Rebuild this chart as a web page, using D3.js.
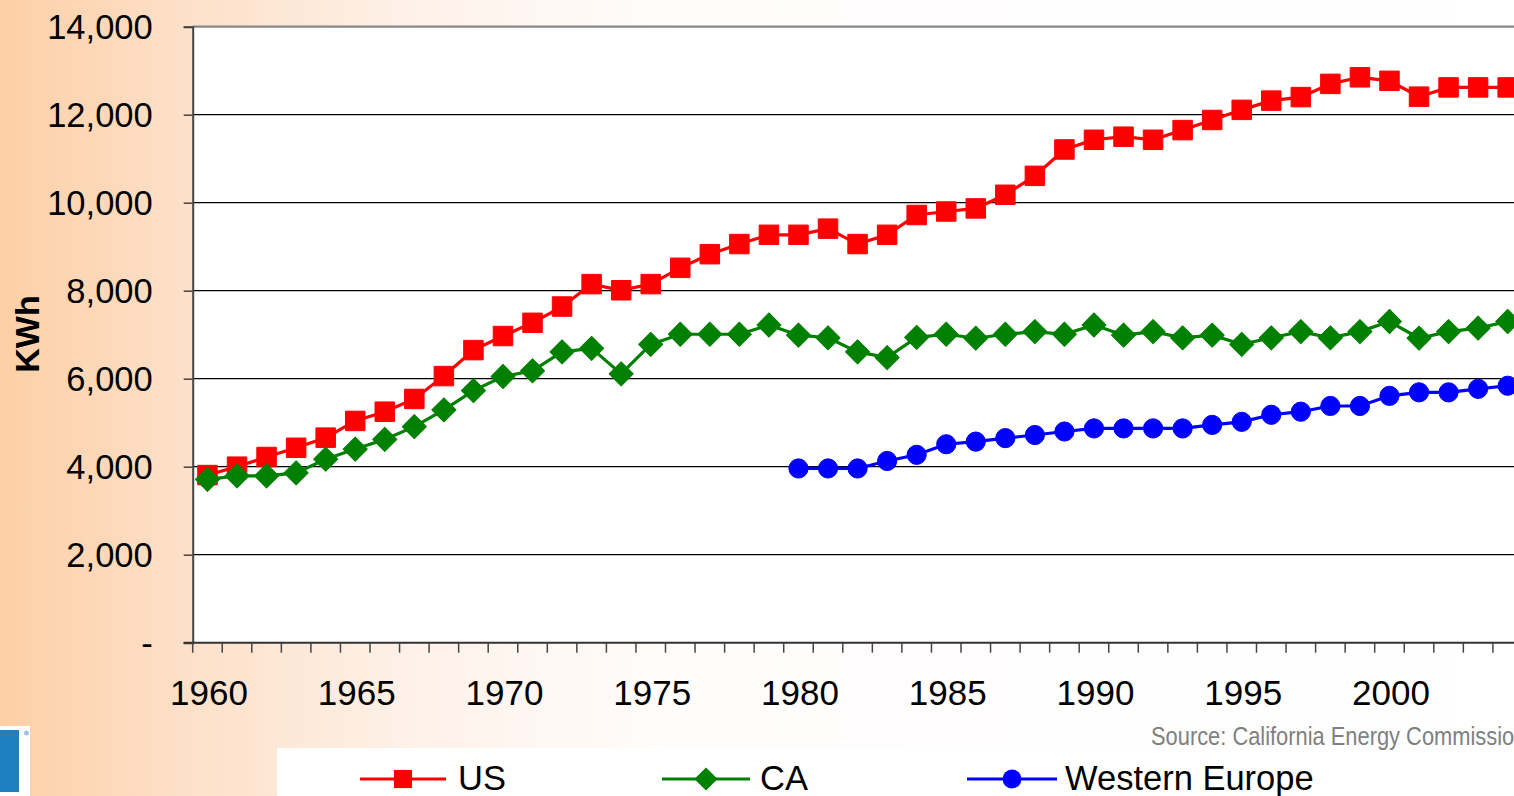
<!DOCTYPE html>
<html>
<head>
<meta charset="utf-8">
<script src="https://cdn.jsdelivr.net/npm/d3@7"></script>
<style>
  html, body { margin: 0; padding: 0; overflow: hidden; background: #fff; }
  svg { display: block; }
</style>
</head>
<body>
<svg id="chart" width="1514" height="796"></svg>
<script>
// ---------- data ----------
const years = d3.range(1960, 2005);
const usValues = [3810, 4000, 4220, 4430, 4660, 5040, 5250, 5540, 6060, 6650,
  6970, 7270, 7640, 8150, 8010, 8150, 8520, 8830, 9060, 9270,
  9270, 9410, 9060, 9270, 9720, 9800, 9870, 10180, 10610, 11210,
  11430, 11500, 11430, 11650, 11880, 12110, 12320, 12400, 12700, 12850,
  12770, 12410, 12620, 12620, 12620];
const caValues = [3710, 3790, 3790, 3860, 4170, 4400, 4620, 4910, 5290, 5730,
  6050, 6180, 6610, 6690, 6110, 6780, 7010, 7010, 7010, 7220,
  6990, 6930, 6610, 6480, 6940, 7010, 6920, 7010, 7070, 7010,
  7220, 6990, 7070, 6930, 6990, 6780, 6930, 7070, 6930, 7070,
  7300, 6920, 7070, 7150, 7300];
const weYears = d3.range(1980, 2005);
const weValues = [3960, 3960, 3960, 4130, 4270, 4510, 4570, 4650, 4720, 4800,
  4870, 4870, 4870, 4870, 4950, 5020, 5180, 5250, 5380, 5380,
  5610, 5690, 5690, 5770, 5840];
const yTicks = [0, 2000, 4000, 6000, 8000, 10000, 12000, 14000];
const xLabelYears = [1960, 1965, 1970, 1975, 1980, 1985, 1990, 1995, 2000];
const seriesNames = ["US", "CA", "Western Europe"];

// ---------- layout ----------
const svg = d3.select("#chart");
const W = 1514, H = 796;
const plotLeft = 192.7, plotTop = 26.7, plotBottom = 642.7;
const step = 29.55;
const plotRight = plotLeft + years.length * step;
const FONT = "Liberation Sans, Arial, sans-serif";

const defs = svg.append("defs");
const grad = defs.append("linearGradient").attr("id", "bg").attr("x1", 0).attr("x2", 1).attr("y1", 0).attr("y2", 0);
grad.append("stop").attr("offset", "0").attr("stop-color", "#fdcfa6");
grad.append("stop").attr("offset", "0.12").attr("stop-color", "#fde0c8");
grad.append("stop").attr("offset", "0.28").attr("stop-color", "#fef2ea");
grad.append("stop").attr("offset", "0.45").attr("stop-color", "#fffdfc");
grad.append("stop").attr("offset", "1").attr("stop-color", "#ffffff");
svg.append("rect").attr("width", W).attr("height", H).attr("fill", "url(#bg)");

// plot area and legend background
svg.append("rect").attr("x", plotLeft).attr("y", plotTop).attr("width", plotRight - plotLeft).attr("height", plotBottom - plotTop).attr("fill", "#fff");
svg.append("rect").attr("x", 277).attr("y", 748).attr("width", W - 277).attr("height", 48).attr("fill", "#fff");

// logo fragment
svg.append("rect").attr("x", 0).attr("y", 726).attr("width", 30).attr("height", 70).attr("fill", "#fff");
svg.append("rect").attr("x", 0).attr("y", 730).attr("width", 19).attr("height", 62).attr("fill", "#1f7fbf");
svg.append("circle").attr("cx", 26.5).attr("cy", 733).attr("r", 2.5).attr("fill", "#9cc4e0");

// ---------- scales ----------
const x = d3.scaleBand().domain(years).range([plotLeft, plotRight]).paddingInner(0).paddingOuter(0);
const xc = yr => x(yr) + x.bandwidth() / 2;
const y = d3.scaleLinear().domain([0, 14000]).range([plotBottom, plotTop]);

// gridlines
svg.append("g").selectAll("line").data(yTicks.filter(d => d > 0 && d < 14000)).join("line")
  .attr("x1", plotLeft).attr("x2", plotRight).attr("y1", d => y(d)).attr("y2", d => y(d))
  .attr("stroke", "#000").attr("stroke-width", 1.2);
// top border
svg.append("line").attr("x1", plotLeft).attr("x2", plotRight).attr("y1", y(14000)).attr("y2", y(14000))
  .attr("stroke", "#888").attr("stroke-width", 2.2);

// y axis
const yAxis = d3.axisLeft(y).tickValues(yTicks).tickSize(9).tickPadding(0)
  .tickFormat(d => d === 0 ? "-" : d3.format(",")(d));
const gy = svg.append("g").attr("transform", `translate(${plotLeft},0)`).call(yAxis);
gy.select(".domain").attr("stroke", "#444").attr("stroke-width", 2);
gy.selectAll(".tick line").attr("stroke", "#444").attr("stroke-width", 1.5);
gy.selectAll(".tick text").attr("x", -40).attr("font-family", FONT)
  .attr("font-size", 34.5).attr("fill", "#000").attr("dy", "0.35em");

// x axis
const xAxisLine = svg.append("g");
xAxisLine.append("line").attr("x1", plotLeft - 9).attr("x2", plotRight).attr("y1", plotBottom).attr("y2", plotBottom)
  .attr("stroke", "#333").attr("stroke-width", 2);
xAxisLine.selectAll("line.tk").data(years.concat([2005])).join("line").attr("class", "tk")
  .attr("x1", d => d === 2005 ? plotRight : x(d)).attr("x2", d => d === 2005 ? plotRight : x(d))
  .attr("y1", plotBottom).attr("y2", plotBottom + 10).attr("stroke", "#444").attr("stroke-width", 1.5);
svg.append("g").selectAll("text").data(xLabelYears).join("text")
  .attr("x", d => xc(d) + 1.5).attr("y", 705).attr("text-anchor", "middle")
  .attr("font-family", FONT).attr("font-size", 35).attr("fill", "#000")
  .text(d => d);

// y title
svg.append("text").attr("transform", "translate(39,334) rotate(-90)").attr("text-anchor", "middle")
  .attr("font-family", FONT).attr("font-weight", "bold").attr("font-size", 34)
  .attr("fill", "#000").text("KWh");

// ---------- series ----------
const line = d3.line().x(d => xc(d[0])).y(d => y(d[1]));
const usData = years.map((yr, i) => [yr, usValues[i]]);
const caData = years.map((yr, i) => [yr, caValues[i]]);
const weData = weYears.map((yr, i) => [yr, weValues[i]]);

const sqSym = d3.symbol().type(d3.symbolSquare).size(380);
const diaSym = d3.symbol().type(d3.symbolSquare).size(290);
const cirSym = d3.symbol().type(d3.symbolCircle).size(290);

function drawSeries(data, color, sym, rot) {
  const g = svg.append("g");
  g.append("path").datum(data).attr("d", line).attr("fill", "none").attr("stroke", color).attr("stroke-width", 3.2);
  g.selectAll("path.m").data(data).join("path").attr("class", "m")
    .attr("transform", d => `translate(${xc(d[0])},${y(d[1])}) rotate(${rot})`)
    .attr("d", sym).attr("fill", color).attr("stroke", color).attr("stroke-width", 1).attr("stroke-linejoin", "round");
}
drawSeries(usData, "#ff0000", sqSym, 0);
drawSeries(caData, "#008000", diaSym, 45);
drawSeries(weData, "#0000ff", cirSym, 0);

// ---------- source ----------
svg.append("text").attr("x", 0).attr("y", 0)
  .attr("font-family", FONT).attr("font-size", 25)
  .attr("fill", "#808080").attr("transform", "translate(1151,745) scale(0.875,1)")
  .text("Source: California Energy Commission");

// ---------- legend ----------
const legendItems = [
  { name: seriesNames[0], color: "#ff0000", sym: d3.symbol().type(d3.symbolSquare).size(330), rot: 0, x1: 360, x2: 446, tx: 458 },
  { name: seriesNames[1], color: "#008000", sym: d3.symbol().type(d3.symbolSquare).size(270), rot: 45, x1: 662, x2: 750, tx: 760 },
  { name: seriesNames[2], color: "#0000ff", sym: d3.symbol().type(d3.symbolCircle).size(280), rot: 0, x1: 967, x2: 1057, tx: 1065 }
];
const lg = svg.append("g").selectAll("g").data(legendItems).join("g");
lg.append("line").attr("x1", d => d.x1).attr("x2", d => d.x2).attr("y1", 779).attr("y2", 779)
  .attr("stroke", d => d.color).attr("stroke-width", 3.2);
lg.append("path").attr("transform", d => `translate(${(d.x1 + d.x2) / 2},779) rotate(${d.rot})`).attr("d", d => d.sym())
  .attr("fill", d => d.color);
lg.append("text").attr("x", d => d.tx).attr("y", 790)
  .attr("font-family", FONT).attr("font-size", 34.5).attr("fill", "#000")
  .text(d => d.name);
</script>
</body>
</html>
